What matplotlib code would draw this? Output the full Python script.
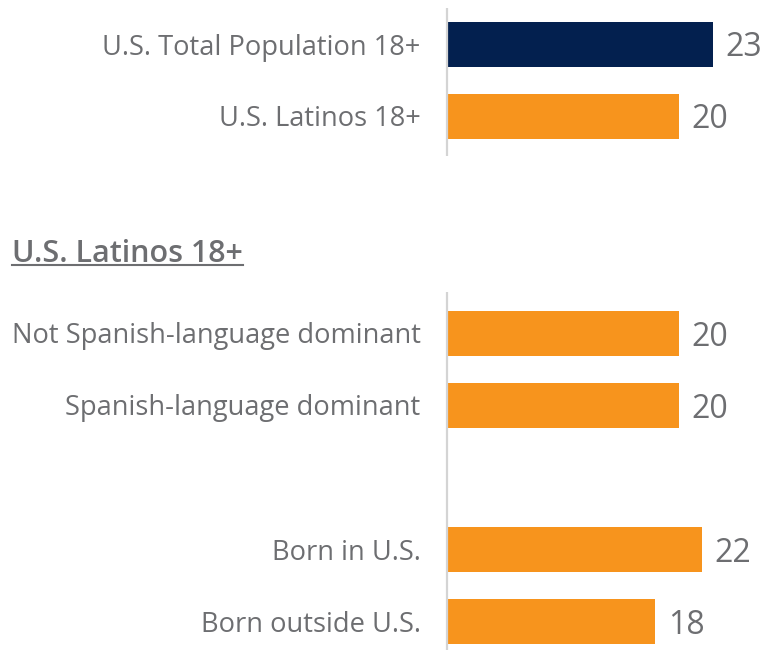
import matplotlib
matplotlib.use("Agg")
import matplotlib.pyplot as plt
from matplotlib.lines import Line2D

categories = ["U.S. Total Population 18+", "U.S. Latinos 18+",
              "Not Spanish-language dominant", "Spanish-language dominant",
              "Born in U.S.", "Born outside U.S."]
values = [23, 20, 20, 20, 22, 18]
heading = "U.S. Latinos 18+"

# layout (pixel rows of the bar centres)
ypos = [44, 116, 333, 405, 549, 621]
colors = ["#03204f", "#f7941d", "#f7941d", "#f7941d", "#f7941d", "#f7941d"]
gray = "#6d6e71"

plt.rcParams['font.family'] = ['Open Sans', 'DejaVu Sans']

W, H, DPI = 767, 654, 100
fig = plt.figure(figsize=(W / DPI, H / DPI), dpi=DPI)
x0 = 447
scale = 11.58
ax = fig.add_axes([x0 / W, 0, 1 - x0 / W, 1])
ax.set_xlim(0, (W - x0) / scale)
ax.set_ylim(H, 0)

ax.barh(ypos, values, height=45, color=colors)
for y, v in zip(ypos, values):
    ax.annotate(f"{v}", (v, y), xytext=(9, 0), textcoords="offset points",
                ha="left", va="center_baseline", fontsize=23, color=gray)

ax.set_yticks(ypos)
ax.set_yticklabels(categories, fontsize=19.6, color=gray, va="center_baseline")
ax.tick_params(axis="y", length=0, pad=19)
ax.set_xticks([])
for s in ax.spines.values():
    s.set_visible(False)

ax.plot([0, 0], [8, 156], color="#d4d4d4", lw=1.6, solid_capstyle="butt", clip_on=False)
ax.plot([0, 0], [292, 650], color="#d4d4d4", lw=1.6, solid_capstyle="butt", clip_on=False)

t = fig.text(12 / W, 1 - 262 / H, heading, fontsize=22, fontweight="semibold",
             color=gray, ha="left", va="baseline")
fig.canvas.draw()
bb = t.get_window_extent()
yl = (H - 265) / H
fig.add_artist(Line2D([bb.x0 / W, bb.x1 / W], [yl, yl], color=gray, lw=1.5,
                      transform=fig.transFigure))

fig.savefig("out.png", dpi=DPI)
